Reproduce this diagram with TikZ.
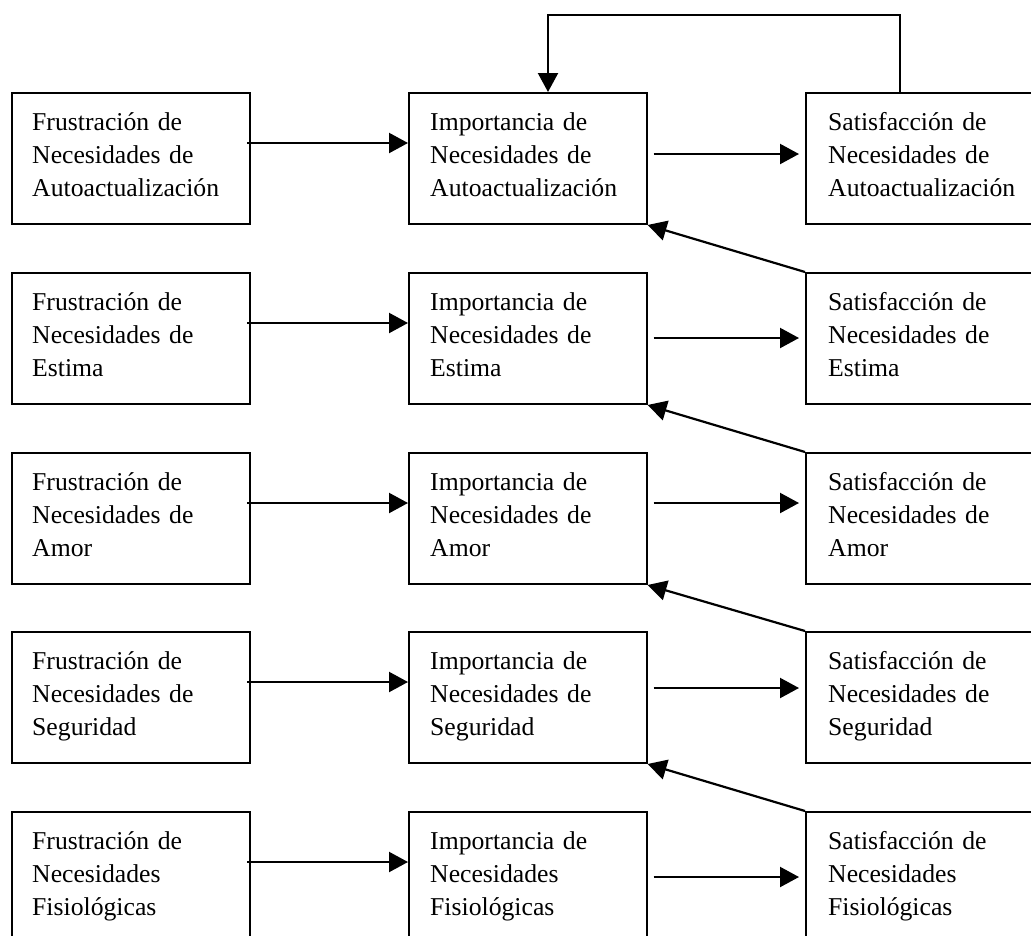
\documentclass[tikz,border=0pt]{standalone}
\usepackage{fontspec}
\setmainfont{Liberation Serif}
\usetikzlibrary{arrows.meta}
\begin{document}
\begin{tikzpicture}[x=1pt,y=-1pt,
  box/.style={draw, line width=2pt, rectangle, inner sep=0pt, anchor=north west, minimum height=131pt},
  txt/.style={anchor=base west, inner sep=0pt, text width=225pt, align=left,
              font=\fontsize{25.7}{33.3}\selectfont},
  arr/.style={line width=2.2pt, -{Triangle[length=19pt,width=20pt]}}]
\useasboundingbox (0,0) rectangle (1031,935);
\clip (0,0) rectangle (1031,935);
\fill[white] (0,0) rectangle (1031,935);

% rows: index / top edge / second line / third line / height of the middle-to-right arrow
\foreach \i/\t/\b/\c/\o in {
  1/92/Necesidades de/Autoactualización/62,
  2/272/Necesidades de/Estima/66,
  3/452/Necesidades de/Amor/51,
  4/631/Necesidades de/Seguridad/57,
  5/811/Necesidades/Fisiológicas/66}{
  \node[box, minimum width=238pt]   (L\i) at (11,\t) {};
  \node[box, minimum width=237.5pt] (M\i) at (408,\t) {};
  \node[box, minimum width=240pt]   (R\i) at (805,\t) {};
  \node[txt] (L\i t) at ([xshift=21pt,yshift=-38pt]L\i.north west) {Frustración de\\\b\\\c};
  \node[txt] (M\i t) at ([xshift=22pt,yshift=-38pt]M\i.north west) {Importancia de\\\b\\\c};
  \node[txt] (R\i t) at ([xshift=23pt,yshift=-38pt]R\i.north west) {Satisfacción de\\\b\\\c};
  \draw[arr] ([xshift=-4pt,yshift=-51pt]L\i.north east) -- ([yshift=-51pt]M\i.north west);
  \draw[arr] ([xshift=6pt,yshift=-\o pt]M\i.north east) -- ([xshift=-6pt,yshift=-\o pt]R\i.north west);
}

% satisfaction of a lower need feeds the importance of the next higher one
\foreach \i/\j in {1/2,2/3,3/4,4/5}{
  \draw[arr] (R\j.north west) -- (M\i.south east);
}

% feedback loop at the top level
\coordinate (looptop) at (0,15);
\draw[arr] ([xshift=95pt]R1.north west) -- ([xshift=95pt]R1.north west |- looptop)
  -| ([xshift=140pt]M1.north west);
\end{tikzpicture}
\end{document}
